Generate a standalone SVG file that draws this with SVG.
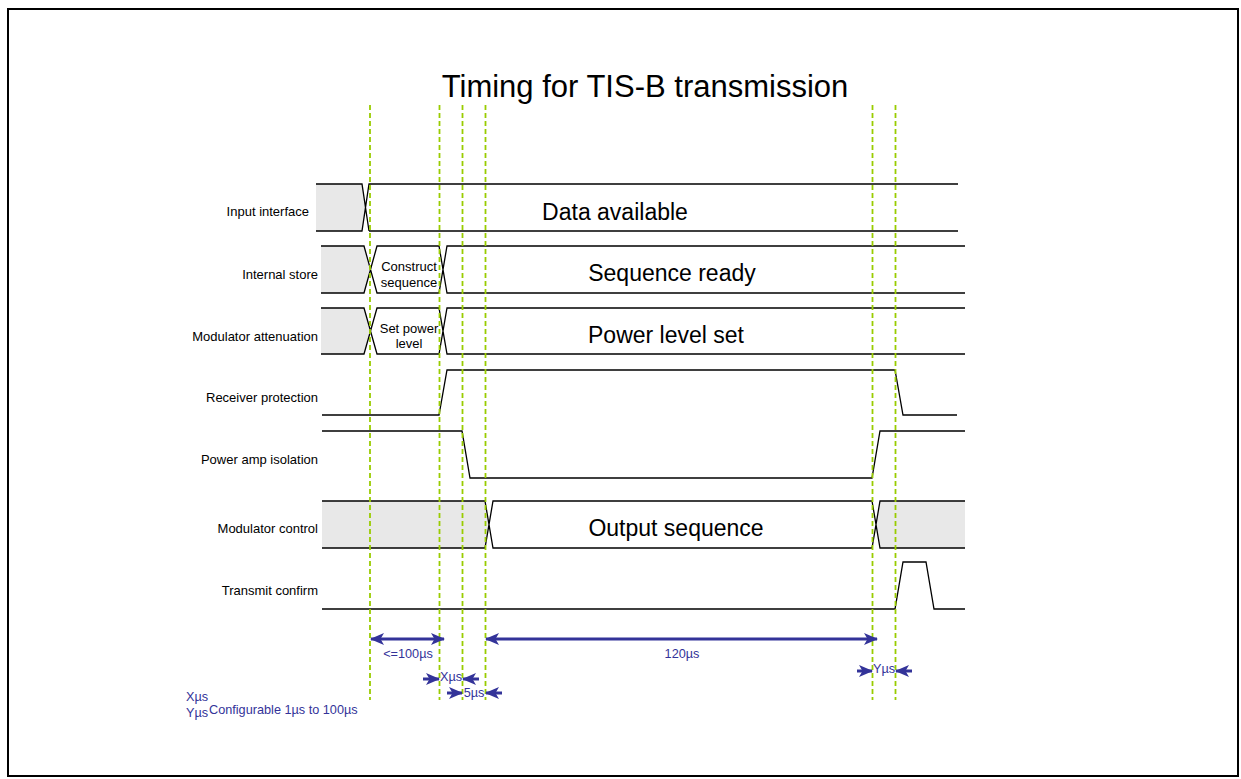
<svg xmlns="http://www.w3.org/2000/svg" width="1241" height="779" viewBox="0 0 1241 779">
<style>
.lbl{font-family:"Liberation Sans",Arial,sans-serif;font-size:13px;fill:#000;text-anchor:end}
.big{font-family:"Liberation Sans",Arial,sans-serif;font-size:23px;fill:#000;text-anchor:middle}
.sm{font-family:"Liberation Sans",Arial,sans-serif;font-size:13px;fill:#000;text-anchor:middle}
.blu{font-family:"Liberation Sans",Arial,sans-serif;font-size:12.7px;fill:#333399}
.sig{fill:none;stroke:#000;stroke-width:1.3}
.grey{fill:#E8E8E8;stroke:none}
.guide{stroke:#99CC00;stroke-width:1.8;stroke-dasharray:5,3;fill:none}
.dim{stroke:#333399;stroke-width:3;fill:none}
</style>
<defs>
<marker id="ah" viewBox="0 0 14 12" refX="13" refY="6" markerWidth="14" markerHeight="12" markerUnits="userSpaceOnUse" orient="auto-start-reverse">
<path d="M0,0 L14,6 L0,12 L3.5,6 z" fill="#333399"/>
</marker>
</defs>
<rect x="8" y="9" width="1230" height="767" fill="#fff" stroke="#000" stroke-width="2"/>
<text x="645" y="97" font-family="Liberation Sans,Arial,sans-serif" font-size="31" text-anchor="middle">Timing for TIS-B transmission</text>

<g id="row-input">
<text class="lbl" x="309" y="216">Input interface</text>
<polygon class="grey" points="316,184 362,184 366,207.5 362,231 316,231"/>
<path class="sig" d="M316,184 H362 L369,231 M316,231 H362 L369,184 H958 M369,231 H958"/>
<text class="big" x="615" y="220">Data available</text>
</g>

<g id="row-store">
<text class="lbl" x="318" y="279">Internal store</text>
<polygon class="grey" points="321,246 364,246 369.5,269.5 364,293 321,293"/>
<path class="sig" d="M321,246 H364 L377,293 H439 L447,246 H965 M321,293 H364 L377,246 H439 L447,293 H965"/>
<text class="sm" x="409" y="271">Construct</text>
<text class="sm" x="409" y="287">sequence</text>
<text class="big" x="672" y="281">Sequence ready</text>
</g>

<g id="row-atten">
<text class="lbl" x="318" y="341">Modulator attenuation</text>
<polygon class="grey" points="321,308 364,308 369.5,331 364,354 321,354"/>
<path class="sig" d="M321,308 H364 L377,354 H439 L447,308 H965 M321,354 H364 L377,308 H439 L447,354 H965"/>
<text class="sm" x="409" y="333">Set power</text>
<text class="sm" x="409" y="348">level</text>
<text class="big" x="666" y="343">Power level set</text>
</g>

<g id="row-rxprot">
<text class="lbl" x="318" y="402">Receiver protection</text>
<path class="sig" d="M322,415 H439 L447,370 H895 L903,415 H957"/>
</g>

<g id="row-paiso">
<text class="lbl" x="318" y="464">Power amp isolation</text>
<path class="sig" d="M322,431 H462 L470,478 H872 L880,431 H965"/>
</g>

<g id="row-modctl">
<text class="lbl" x="318" y="533">Modulator control</text>
<polygon class="grey" points="322,501 485,501 489,524.5 485,548 322,548"/>
<polygon class="grey" points="880,501 965,501 965,548 880,548 876,524.5"/>
<path class="sig" d="M322,501 H485 L493,548 H872 L880,501 H965 M322,548 H485 L493,501 H872 L880,548 H965"/>
<text class="big" x="676" y="536">Output sequence</text>
</g>

<g id="row-txconf">
<text class="lbl" x="318" y="595">Transmit confirm</text>
<path class="sig" d="M322,609 H895 L903,562 H926 L934,609 H965"/>
</g>

<g id="guides">
<line class="guide" x1="370" y1="105" x2="370" y2="700"/>
<line class="guide" x1="439.5" y1="105" x2="439.5" y2="700"/>
<line class="guide" x1="462.5" y1="105" x2="462.5" y2="700"/>
<line class="guide" x1="485.5" y1="105" x2="485.5" y2="700"/>
<line class="guide" x1="872.5" y1="105" x2="872.5" y2="700"/>
<line class="guide" x1="895.5" y1="105" x2="895.5" y2="700"/>
</g>

<g id="connectors">
<line class="dim" x1="371" y1="639" x2="444" y2="639" marker-start="url(#ah)" marker-end="url(#ah)"/>
<line class="dim" x1="486" y1="639" x2="877" y2="639" marker-start="url(#ah)" marker-end="url(#ah)"/>
<line class="dim" x1="423" y1="679" x2="439" y2="679" marker-end="url(#ah)"/>
<line class="dim" x1="479" y1="679" x2="463" y2="679" marker-end="url(#ah)"/>
<line class="dim" x1="447" y1="693" x2="462" y2="693" marker-end="url(#ah)"/>
<line class="dim" x1="502" y1="693" x2="486" y2="693" marker-end="url(#ah)"/>
<line class="dim" x1="857" y1="671" x2="872" y2="671" marker-end="url(#ah)"/>
<line class="dim" x1="912" y1="671" x2="896" y2="671" marker-end="url(#ah)"/>
</g>

<g id="dim-labels">
<text class="blu" x="408" y="658" text-anchor="middle">&lt;=100µs</text>
<text class="blu" x="682" y="658" text-anchor="middle">120µs</text>
<text class="blu" x="451" y="681" text-anchor="middle">Xµs</text>
<text class="blu" x="474" y="697" text-anchor="middle">5µs</text>
<text class="blu" x="884" y="673" text-anchor="middle">Yµs</text>
<text class="blu" x="186" y="701">Xµs</text>
<text class="blu" x="186" y="717">Yµs</text>
<text class="blu" x="209" y="714">Configurable 1µs to 100µs</text>
</g>
</svg>
